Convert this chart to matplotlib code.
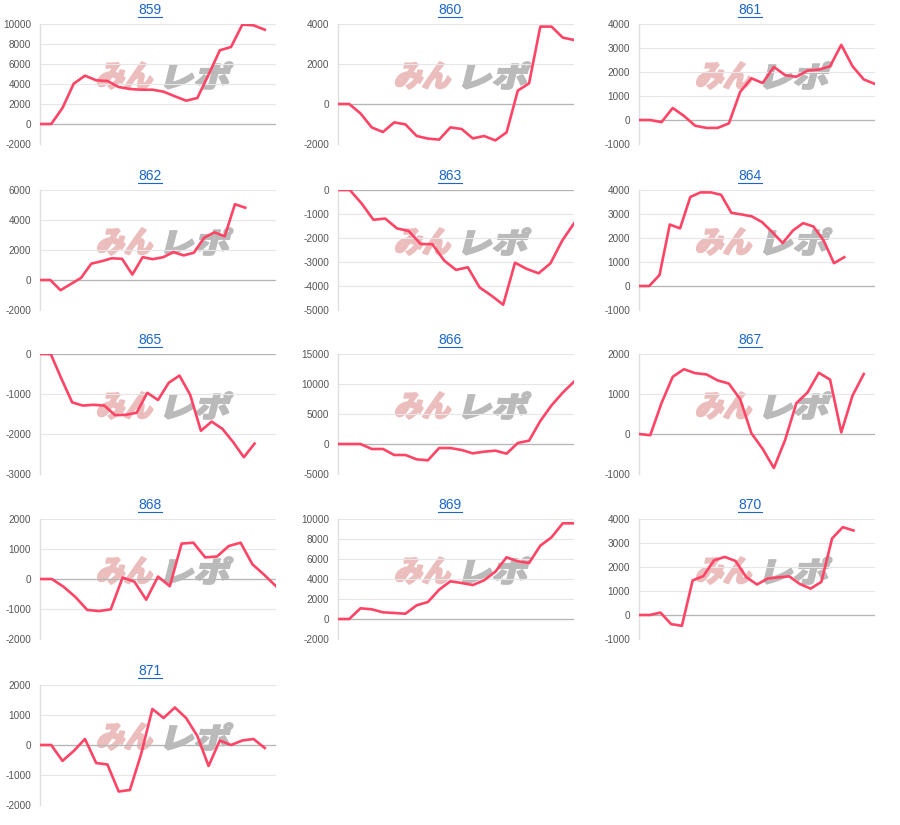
import matplotlib
matplotlib.use("Agg")
import matplotlib.pyplot as plt
from matplotlib.ticker import MultipleLocator, FuncFormatter
from matplotlib.textpath import TextPath
from matplotlib.patches import PathPatch
from matplotlib.font_manager import FontProperties
from matplotlib.transforms import Affine2D
import numpy as np

plt.rcParams['font.family'] = ['Liberation Sans', 'DejaVu Sans']

titles = ["859", "860", "861", "862", "863", "864", "865", "866", "867", "868", "869", "870", "871"]

v859 = [0, 0, 1600, 4030, 4830, 4370, 4300, 3700, 3500, 3430, 3430, 3230, 2770, 2330, 2600, 4930, 7370, 7700, 9930, 9870, 9430]
v860 = [0, 0, -470, -1170, -1400, -920, -1020, -1600, -1730, -1780, -1170, -1250, -1720, -1600, -1820, -1420, 670, 1030, 3870, 3870, 3320, 3200]
v861 = [0, 0, -90, 500, 170, -240, -330, -330, -140, 1170, 1740, 1540, 2210, 1870, 1800, 2060, 2100, 2240, 3130, 2240, 1690, 1500]
v862 = [0, 0, -680, -270, 140, 1090, 1250, 1450, 1410, 360, 1520, 1390, 1520, 1860, 1640, 1820, 2820, 3180, 2910, 5050, 4820]
v863 = [0, 0, -560, -1240, -1190, -1600, -1710, -2250, -2260, -2940, -3330, -3220, -4060, -4400, -4780, -3030, -3290, -3470, -3060, -2110, -1390]
v864 = [0, 0, 460, 2560, 2400, 3710, 3900, 3900, 3800, 3050, 2980, 2900, 2660, 2240, 1790, 2310, 2620, 2480, 1890, 950, 1200]
v865 = [0, 0, -620, -1210, -1290, -1270, -1290, -1530, -1520, -1470, -970, -1150, -720, -540, -1020, -1920, -1690, -1870, -2200, -2580, -2240]
v866 = [0, 0, 0, -830, -830, -1830, -1830, -2560, -2720, -670, -670, -1000, -1560, -1280, -1110, -1610, 170, 560, 3830, 6440, 8560, 10390]
v867 = [0, -30, 770, 1430, 1620, 1520, 1490, 1340, 1260, 870, 20, -370, -850, -150, 770, 1040, 1530, 1360, 40, 960, 1500]
v868 = [0, 0, -260, -600, -1030, -1070, -1010, 50, -90, -690, 80, -240, 1180, 1210, 720, 750, 1100, 1210, 490, 140, -240]
v869 = [0, 0, 1070, 970, 670, 600, 530, 1370, 1700, 2930, 3770, 3600, 3400, 3870, 4730, 6170, 5770, 5600, 7330, 8170, 9570, 9570]
v870 = [0, 0, 100, -380, -450, 1440, 1620, 2280, 2420, 2250, 1580, 1270, 1520, 1570, 1610, 1290, 1100, 1380, 3190, 3660, 3520]
v871 = [0, 0, -530, -200, 200, -600, -650, -1550, -1500, -300, 1200, 900, 1250, 900, 300, -700, 150, 0, 150, 200, -100]

series = [v859, v860, v861, v862, v863, v864, v865, v866, v867, v868, v869, v870, v871]

# y-axis ranges and tick steps
ymins = [-2000, -2000, -1000, -2000, -5000, -1000, -3000, -5000, -1000, -2000, -2000, -1000, -2000]
ymaxs = [10000, 4000, 4000, 6000, 0, 4000, 0, 15000, 2000, 2000, 10000, 4000, 2000]
ysteps = [2000, 2000, 1000, 2000, 1000, 1000, 1000, 5000, 1000, 1000, 2000, 1000, 1000]
# x-axis extents (number of slots)
xmaxs = [21, 21, 21, 23, 20, 23, 22, 21, 21, 20, 21, 22, 21]

W, H = 900, 825
DPI = 100
fig = plt.figure(figsize=(W / DPI, H / DPI), dpi=DPI)

col_left = [40, 338, 639]
row_top = [24, 190, 354, 519, 685]
pw, ph = 236, 120

LINE = "#ff4466"
TITLE_C = "#1a66cc"

fp_wm = FontProperties(family="Noto Sans CJK JP", weight="heavy")


def watermark(ax, text, x0, ytop, w, h, color):
    tp = TextPath((0, 0), text, size=40, prop=fp_wm)
    ext = tp.get_extents()
    tr = (Affine2D().translate(-ext.x0, -ext.y0)
          .scale(w / ext.width * 0.85, h / ext.height)
          .skew_deg(14, 0)
          .translate(x0, H - ytop - h)
          .scale(1.0 / W, 1.0 / H))
    path = tr.transform_path(tp)
    patch = PathPatch(path, transform=fig.transFigure, facecolor=color,
                      edgecolor=color, lw=1.3, joinstyle="round",
                      zorder=0.5, clip_on=False)
    ax.add_artist(patch)


title_artists = []
for i, (name, vals) in enumerate(zip(titles, series)):
    r, c = divmod(i, 3)
    left = col_left[c]
    top = row_top[r]
    ax = fig.add_axes([left / W, (H - top - ph) / H, pw / W, ph / H])
    x = np.arange(len(vals))
    ax.plot(x, vals, color=LINE, lw=1.9, zorder=3, solid_joinstyle="round")
    ax.set_xlim(0, xmaxs[i])
    ax.set_ylim(ymins[i], ymaxs[i])
    ax.yaxis.set_major_locator(MultipleLocator(ysteps[i]))
    ax.yaxis.set_major_formatter(FuncFormatter(lambda v, p: f"{int(round(v))}"))
    ax.set_xticks([])
    ax.tick_params(axis="y", length=0, pad=6.5, labelsize=7.2, labelcolor="#555555")
    for s in ["top", "right", "bottom"]:
        ax.spines[s].set_visible(False)
    ax.spines["left"].set_color("#e0e0e0")
    ax.spines["left"].set_linewidth(1.0)
    ax.grid(axis="y", color="#e6e6e6", lw=0.8, zorder=1)
    ax.set_axisbelow(True)
    ax.axhline(0, color="#b5b5b5", lw=0.9, zorder=2)
    # watermark
    watermark(ax, "みん", left + 56, top + 38, 64, 27, "#ecbdbd")
    watermark(ax, "レポ", left + 124, top + 38, 74, 27, "#bababa")
    cx = (c * 300 + 150) / W
    t = fig.text(cx, (H - top + 10) / H, name, ha="center", va="baseline",
                 fontsize=10, color=TITLE_C)
    title_artists.append(t)

fig.canvas.draw()
renderer = fig.canvas.get_renderer()
for t in title_artists:
    bb = t.get_window_extent(renderer)
    yline = bb.y0 + 0.5
    fig.add_artist(plt.Line2D([bb.x0 / W, bb.x1 / W], [yline / H, yline / H],
                              transform=fig.transFigure, color=TITLE_C, lw=0.8))

fig.savefig("out.png", dpi=DPI, facecolor="white")
